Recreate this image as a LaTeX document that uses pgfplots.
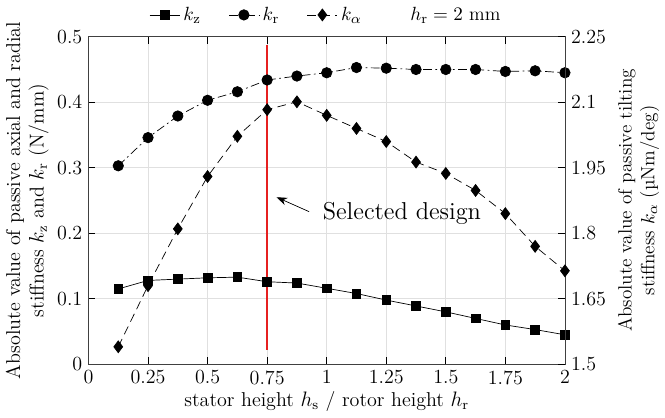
\documentclass[border=0pt]{standalone}
\usepackage{pgfplots}
\pgfplotsset{compat=1.18}
\usetikzlibrary{arrows.meta}

\definecolor{selred}{RGB}{230,32,32}

\pgfplotstableread{
x      kz     kr     ka
0.125  0.115  0.303  1.540
0.25   0.128  0.346  1.680
0.375  0.130  0.379  1.810
0.5    0.132  0.403  1.930
0.625  0.133  0.416  2.022
0.75   0.126  0.434  2.083
0.875  0.124  0.440  2.101
1.0    0.116  0.445  2.070
1.125  0.108  0.453  2.040
1.25   0.098  0.452  2.010
1.375  0.089  0.450  1.963
1.5    0.080  0.450  1.937
1.625  0.070  0.450  1.898
1.75   0.060  0.447  1.845
1.875  0.053  0.448  1.770
2.0    0.045  0.445  1.714
}\data

\begin{document}
\begin{tikzpicture}
\pgfplotsset{
  common/.style={
    width=9.6cm, height=6.6cm, scale only axis,
    xmin=0, xmax=2,
    xtick={0,0.25,...,2},
    tick align=inside,
    tick style={black, thin},
    major tick length=4pt,
    axis line style={black!75},
    tick label style={font=\fontsize{11.5}{13}\selectfont},
    label style={font=\fontsize{11.5}{13.5}\selectfont},
  },
  kdash/.style={dash pattern=on 5pt off 3pt},
  kdashdot/.style={dash pattern=on 5pt off 2pt on 1pt off 2pt},
}
\begin{axis}[
  common,
  ymin=0, ymax=0.5,
  ytick={0,0.1,...,0.5},
  xticklabels={0,0.25,0.5,0.75,1,1.25,1.5,1.75,2},
  yticklabels={0,0.1,0.2,0.3,0.4,0.5},
  ytick pos=left,
  grid=major,
  grid style={black!12},
  xlabel={stator height $h_\mathrm{s}$ / rotor height $h_\mathrm{r}$},
  xlabel style={yshift=3pt},
  ylabel={Absolute value of passive axial and radial\\stiffness $k_\mathrm{z}$ and $k_\mathrm{r}$ (N/mm)},
  ylabel style={align=center, yshift=-2pt},
  legend columns=4,
  legend style={draw=none, at={(0.5,1.02)}, anchor=south, fill=none,
    font=\fontsize{11}{13}\selectfont,
    /tikz/every even column/.append style={column sep=14pt}},
]
\addplot[black, solid, mark=square*, mark size=2.5pt, mark options={solid}] table[x=x,y=kz] {\data};
\addlegendentry{$k_\mathrm{z}$}
\addplot[black, kdashdot, mark=*, mark size=3pt, mark options={solid}] table[x=x,y=kr] {\data};
\addlegendentry{$k_\mathrm{r}$}
\addlegendimage{black, kdash, mark=diamond*, mark size=3.4pt, mark options={solid}}
\addlegendentry{$k_\alpha$}
\addlegendimage{empty legend}
\addlegendentry{\hspace*{10pt}$h_\mathrm{r} = 2$ mm}
\addplot[selred, line width=1.1pt, forget plot] coordinates {(0.75,0.022) (0.75,0.488)};
\draw[-{Stealth[length=6pt]}, thin] (axis cs:0.926,0.233) -- (axis cs:0.79,0.255);
\node[anchor=west, font=\fontsize{14}{16}\selectfont, inner sep=1pt] at (axis cs:0.975,0.231) {Selected design};
\end{axis}
\begin{axis}[
  common,
  ymin=1.5, ymax=2.25,
  ytick={1.5,1.65,1.8,1.95,2.1,2.25},
  yticklabels={1.5,1.65,1.8,1.95,2.1,2.25},
  axis x line=none,
  axis y line*=right,
  ylabel={Absolute value of passive tilting\\stiffness $k_\alpha$ (µNm/deg)},
  ylabel style={align=center, font=\fontsize{11}{13}\selectfont},
]
\addplot[black, kdash, mark=diamond*, mark size=3.4pt, mark options={solid}] table[x=x,y=ka] {\data};
\end{axis}
\end{tikzpicture}
\end{document}
